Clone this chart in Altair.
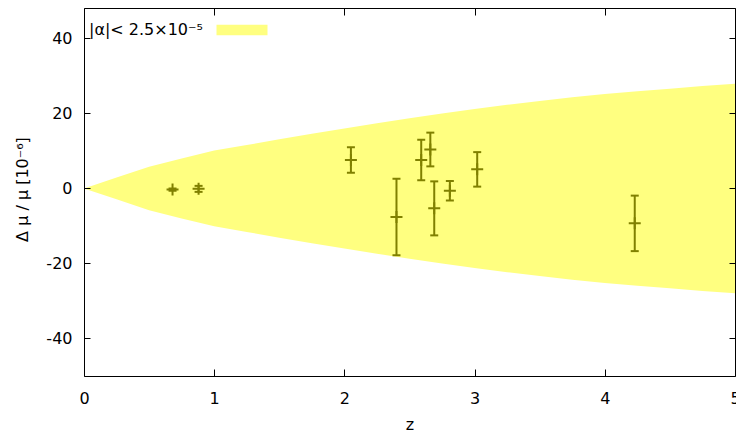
import altair as alt
import pandas as pd

# ---- data ----
band_z = [0, 0.25, 0.5, 0.75, 1.0, 1.25, 1.5, 1.75, 2.0, 2.25, 2.5,
          2.75, 3.0, 3.25, 3.5, 3.75, 4.0, 4.25, 4.5, 4.75, 5.0]
band_half = [0, 2.9, 5.8, 8.0, 10.1, 11.6, 13.1, 14.6, 16.0, 17.4, 18.7,
             20.0, 21.2, 22.3, 23.3, 24.3, 25.2, 25.9, 26.6, 27.3, 27.9]

obs_z = [0.68, 0.88, 2.05, 2.40, 2.59, 2.66, 2.69, 2.81, 3.02, 4.23]
obs_dmu = [-0.3, -0.1, 7.6, -7.6, 7.6, 10.4, -5.3, -0.6, 5.1, -9.3]
obs_err = [0.3, 0.8, 3.4, 10.2, 5.4, 4.5, 7.2, 2.6, 4.6, 7.4]

x_ticks = [0, 1, 2, 3, 4, 5]
y_ticks = [-40, -20, 0, 20, 40]
legend_label = "|α|< 2.5×10⁻⁵"

band = pd.DataFrame({
    "z": band_z,
    "hi": band_half,
    "lo": [-v for v in band_half],
    "series": [legend_label] * len(band_z),
})
pts = pd.DataFrame({
    "z": obs_z,
    "dmu": obs_dmu,
    "lo": [d - e for d, e in zip(obs_dmu, obs_err)],
    "hi": [d + e for d, e in zip(obs_dmu, obs_err)],
})

FONT = "DejaVu Sans"
OLIVE = "#808000"
XS = alt.Scale(domain=[0, 5], nice=False, zero=False)
YS = alt.Scale(domain=[-50, 48.133], nice=False, zero=False)
TK = 7
HYPHEN = "replace(datum.label, '\u2212', '-')"

common = dict(grid=False, domainColor="black", tickColor="black", zindex=1)

ax_x_main = alt.Axis(orient="bottom", values=x_ticks, tickSize=0, labelPadding=14,
                     labelFontSize=16, labelFont=FONT, labelColor="black", domain=True,
                     labelFlush=False,
                     title="z", titleFontSize=16, titleFont=FONT, titleFontWeight="normal",
                     titleColor="black", titleY=53, titleBaseline="alphabetic", format="d",
                     **common)
ax_x_bt = alt.Axis(orient="bottom", values=x_ticks, offset=-TK, tickSize=TK, labels=False,
                   domain=False, title=None, **common)
ax_x_top = alt.Axis(orient="top", values=x_ticks, ticks=False, labels=False, domain=True,
                    title=None, **common)
ax_x_tt = alt.Axis(orient="top", values=x_ticks, offset=-TK, tickSize=TK, labels=False,
                   domain=False, title=None, **common)

ax_y_main = alt.Axis(orient="left", values=y_ticks, tickSize=0, labelPadding=12,
                     labelFontSize=16, labelFont=FONT, labelColor="black", domain=True,
                     labelExpr=HYPHEN,
                     title="Δ μ / μ [10⁻⁶]", titleFontSize=16, titleFont=FONT,
                     titleFontWeight="normal", titleColor="black", titleX=-62,
                     titleY=181, titleAngle=270, titleAlign="center", titleBaseline="middle",
                     **common)
ax_y_lt = alt.Axis(orient="left", values=y_ticks, offset=-6, tickSize=6, labels=False,
                   domain=False, title=None, **common)
ax_y_right = alt.Axis(orient="right", values=y_ticks, ticks=False, labels=False, domain=True,
                      title=None, **common)
ax_y_rt = alt.Axis(orient="right", values=y_ticks, offset=-6, tickSize=6, labels=False,
                   domain=False, title=None, **common)

band_layer = alt.Chart(band).mark_area(opacity=1, interpolate="linear").encode(
    x=alt.X("z:Q", scale=XS, axis=ax_x_main),
    y=alt.Y("lo:Q", scale=YS, axis=ax_y_main),
    y2="hi:Q",
    color=alt.Color("series:N", scale=alt.Scale(range=["#ffff80"]),
                    legend=alt.Legend(orient="none", legendX=5, legendY=17,
                                      title=legend_label, titleOrient="left",
                                      titleFont=FONT, titleFontSize=16,
                                      titleFontWeight="normal", titleColor="black",
                                      titlePadding=34, titleBaseline="middle",
                                      titleAnchor="middle",
                                      labelExpr="''", labelFontSize=10, padding=0,
                                      symbolType="M-5.1,-1.07H5.1V1.07H-5.1Z",
                                      symbolSize=100, symbolStrokeWidth=0,
                                      symbolOpacity=1)),
)

rules = alt.Chart(pts).mark_rule(color=OLIVE, strokeWidth=2).encode(
    x=alt.X("z:Q", scale=XS, axis=ax_x_bt),
    y=alt.Y("lo:Q", scale=YS, axis=ax_y_lt),
    y2="hi:Q",
)
cap_lo = alt.Chart(pts).mark_tick(color=OLIVE, orient="horizontal", size=8,
                                  thickness=2, opacity=1).encode(
    x=alt.X("z:Q", scale=XS, axis=ax_x_top),
    y=alt.Y("lo:Q", scale=YS, axis=ax_y_right),
)
cap_hi = alt.Chart(pts).mark_tick(color=OLIVE, orient="horizontal", size=8,
                                  thickness=2, opacity=1).encode(
    x=alt.X("z:Q", scale=XS, axis=ax_x_tt),
    y=alt.Y("hi:Q", scale=YS, axis=ax_y_rt),
)
centers = alt.Chart(pts).mark_point(shape="M-1,0H1M0,-1V1", size=144, filled=False,
                                    color=OLIVE, strokeWidth=2, opacity=1).encode(
    x=alt.X("z:Q", scale=XS, axis=None),
    y=alt.Y("dmu:Q", scale=YS, axis=None),
)

chart = alt.layer(band_layer, rules, cap_lo, cap_hi, centers).resolve_axis(
    x="independent", y="independent"
).properties(
    width=651, height=368,
    autosize=alt.AutoSizeParams(type="none"),
    padding={"left": 76, "top": 0, "right": 1, "bottom": 56},
).configure(font=FONT).configure_view(stroke=None)

chart.save("out.html", embed_options={"renderer": "svg", "actions": False})
